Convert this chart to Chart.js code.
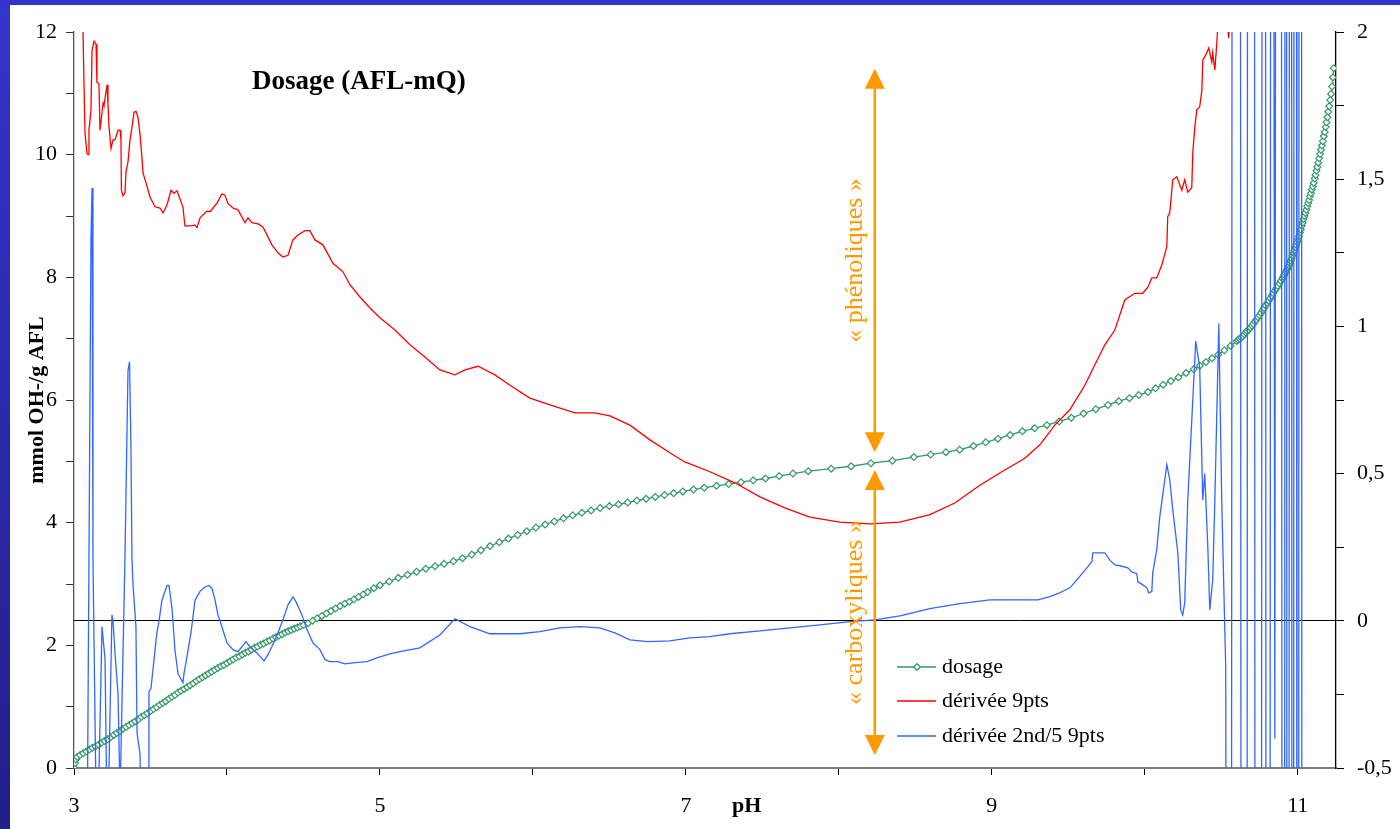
<!DOCTYPE html>
<html>
<head>
<meta charset="utf-8">
<script src="https://cdn.jsdelivr.net/npm/chart.js@4.4.1/dist/chart.umd.min.js"></script>
<style>
html,body{margin:0;padding:0;overflow:hidden;background:#fff;}
canvas{display:block;}
</style>
</head>
<body>
<canvas id="c" width="1400" height="829"></canvas>
<script>
// ---------- DATA ----------
const chartTitle = "Dosage (AFL-mQ)";
const xTitle = "pH";
const yTitle = "mmol OH-/g AFL";
const seriesNames = ["dosage", "dérivée 9pts", "dérivée 2nd/5 9pts"];

const xTicks = [3,4,5,6,7,8,9,10,11];
const xTickLabels = ["3","","5","","7","","9","","11"];
const yTicks = [0,1,2,3,4,5,6,7,8,9,10,11,12];
const yTickLabels = ["0","","2","","4","","6","","8","","10","","12"];
const y2Ticks = [-0.5,-0.25,0,0.25,0.5,0.75,1,1.25,1.5,1.75,2];
const y2TickLabels = ["-0,5","","0","","0,5","","1","","1,5","","2"];

// dosage (left axis)
const phDosage = [
  3.00,3.007,3.013,3.02,3.04,3.06,3.08,3.10,3.12,3.14,3.16,3.18,3.20,3.22,3.24,3.26,3.28,3.30,3.32,3.34,
  3.36,3.38,3.40,3.42,3.44,3.46,3.48,3.50,3.52,3.54,3.56,3.58,3.60,3.62,3.64,3.66,3.68,3.70,3.72,3.74,
  3.76,3.78,3.80,3.82,3.84,3.86,3.88,3.90,3.92,3.94,3.96,3.98,4.00,4.02,4.04,4.06,4.08,4.10,4.12,4.14,
  4.16,4.18,4.20,4.22,4.24,4.26,4.28,4.30,4.32,4.34,4.36,4.38,4.40,4.42,4.44,4.46,4.48,4.50,
  4.53,4.56,4.59,4.62,4.65,4.68,4.71,4.74,4.77,4.80,4.83,4.86,4.89,4.92,4.96,5.00,
  5.06,5.12,5.18,5.24,5.30,5.36,5.42,5.48,5.54,5.60,5.66,5.72,5.78,5.84,5.90,5.96,6.02,6.08,6.14,6.20,
  6.26,6.32,6.38,6.44,6.50,6.56,6.62,6.68,6.74,6.80,6.86,6.92,6.98,7.05,7.12,7.20,7.28,7.36,7.44,7.52,
  7.61,7.70,7.80,7.95,8.08,8.21,8.35,8.49,8.60,8.70,8.79,8.88,8.96,9.04,9.12,9.20,9.28,9.36,9.44,9.52,
  9.60,9.68,9.76,9.83,9.90,9.96,10.02,10.07,10.12,10.17,10.22,10.27,10.32,10.36,10.40,10.44,10.48,10.52,10.56,
  10.60,10.61,10.62,10.63,10.64,10.65,10.66,10.67,10.68,10.69,10.70,10.71,10.72,10.73,10.74,10.75,10.76,10.77,10.78,10.79,
  10.80,10.81,10.82,10.83,10.84,10.85,10.86,10.87,10.88,10.89,10.90,
  10.906,10.912,10.918,10.924,10.930,10.936,10.942,10.948,10.954,10.960,10.966,10.972,10.978,10.984,10.990,10.996,
  11.002,11.008,11.014,11.020,11.026,11.032,11.038,11.044,11.050,11.056,11.062,11.068,11.074,11.080,11.086,11.092,11.098,
  11.104,11.110,11.116,11.122,11.128,11.134,11.140,11.146,11.152,11.158,11.164,11.170,11.176,11.182,11.188,11.194,
  11.200,11.206,11.212,11.218,11.224,11.230,11.235];
const mmolDosage = [
  0.00,0.08,0.14,0.18,0.21,0.24,0.27,0.30,0.33,0.35,0.38,0.41,0.44,0.47,0.50,0.54,0.57,0.60,0.64,0.67,
  0.70,0.73,0.76,0.79,0.83,0.86,0.89,0.93,0.96,0.99,1.03,1.06,1.09,1.13,1.16,1.19,1.23,1.26,1.29,1.32,
  1.35,1.38,1.42,1.45,1.48,1.51,1.54,1.57,1.60,1.63,1.66,1.68,1.71,1.74,1.77,1.80,1.82,1.85,1.88,1.90,
  1.93,1.96,1.98,2.01,2.03,2.06,2.08,2.11,2.13,2.16,2.18,2.21,2.23,2.25,2.27,2.29,2.31,2.33,
  2.36,2.40,2.44,2.48,2.52,2.56,2.60,2.64,2.68,2.71,2.75,2.79,2.83,2.87,2.93,2.98,
  3.04,3.10,3.15,3.20,3.25,3.29,3.33,3.37,3.42,3.48,3.55,3.62,3.68,3.74,3.80,3.86,3.92,3.97,4.02,4.07,
  4.12,4.16,4.20,4.24,4.27,4.30,4.33,4.36,4.39,4.42,4.45,4.48,4.51,4.54,4.57,4.60,4.63,4.66,4.69,4.72,
  4.76,4.80,4.84,4.88,4.92,4.97,5.01,5.07,5.11,5.15,5.19,5.25,5.31,5.37,5.43,5.49,5.54,5.59,5.65,5.71,
  5.78,5.85,5.92,5.98,6.03,6.08,6.13,6.19,6.25,6.31,6.37,6.44,6.50,6.56,6.62,6.68,6.74,6.81,6.88,
  6.96,6.98,7.00,7.02,7.04,7.07,7.10,7.12,7.15,7.18,7.21,7.24,7.28,7.31,7.35,7.38,7.42,7.46,7.50,7.54,
  7.58,7.62,7.66,7.70,7.74,7.78,7.82,7.86,7.90,7.94,7.98,
  8.01,8.04,8.07,8.10,8.13,8.16,8.19,8.23,8.27,8.31,8.35,8.40,8.44,8.49,8.53,8.57,
  8.62,8.67,8.73,8.78,8.84,8.89,8.95,9.00,9.05,9.10,9.16,9.21,9.26,9.32,9.37,9.43,9.48,
  9.54,9.61,9.67,9.74,9.80,9.87,9.94,10.01,10.08,10.15,10.22,10.30,10.37,10.45,10.53,10.61,
  10.70,10.79,10.89,10.99,11.11,11.26,11.41];

// dérivée 9pts (left axis)
const phDeriv = [3.055,3.065,3.072,3.085,3.092,3.098,3.111,3.118,3.131,3.144,3.150,3.163,3.170,3.190,3.196,3.216,3.222,3.229,3.242,3.255,3.268,3.288,3.301,3.307,3.310,3.320,3.333,3.340,3.353,3.366,3.379,3.392,3.405,3.418,3.431,3.444,3.451,3.471,3.484,3.497,3.529,3.562,3.582,3.608,3.634,3.654,3.673,3.712,3.725,3.758,3.791,3.804,3.824,3.869,3.889,3.935,3.967,3.987,4.007,4.039,4.072,4.118,4.137,4.163,4.203,4.235,4.294,4.333,4.366,4.399,4.431,4.464,4.510,4.542,4.575,4.627,4.693,4.758,4.804,4.869,4.935,5.000,5.098,5.196,5.294,5.392,5.490,5.556,5.641,5.752,5.850,5.980,6.111,6.275,6.405,6.503,6.634,6.765,6.895,6.993,7.157,7.320,7.484,7.647,7.810,8.007,8.203,8.399,8.595,8.758,8.922,9.052,9.216,9.314,9.412,9.510,9.608,9.673,9.739,9.804,9.869,9.935,9.987,10.020,10.046,10.078,10.111,10.144,10.150,10.163,10.183,10.209,10.242,10.261,10.281,10.307,10.314,10.327,10.340,10.359,10.373,10.379,10.405,10.418,10.438,10.444,10.458,10.471,10.484,10.535,10.548,10.560];
const deriv9 = [12.5,11.2,10.35,10.02,10.0,10.4,10.73,11.7,11.85,11.8,11.18,11.16,10.4,10.84,10.8,11.14,10.84,10.45,10.1,10.24,10.24,10.4,10.4,10.24,9.42,9.33,9.37,9.72,9.88,10.24,10.45,10.69,10.71,10.61,10.35,9.96,9.70,9.54,9.42,9.31,9.15,9.13,9.05,9.18,9.42,9.37,9.41,9.15,8.84,8.84,8.85,8.81,8.97,9.08,9.07,9.21,9.36,9.34,9.20,9.13,9.10,8.89,8.97,8.89,8.87,8.82,8.53,8.40,8.33,8.36,8.61,8.69,8.76,8.76,8.61,8.53,8.23,8.09,7.88,7.68,7.50,7.34,7.14,6.90,6.70,6.49,6.41,6.49,6.55,6.41,6.24,6.03,5.92,5.79,5.79,5.74,5.59,5.35,5.14,4.99,4.83,4.65,4.42,4.24,4.09,4.01,3.98,4.01,4.13,4.32,4.61,4.81,5.05,5.27,5.59,5.84,6.24,6.57,6.90,7.14,7.63,7.74,7.74,7.84,7.99,7.99,8.20,8.50,8.99,9.05,9.59,9.64,9.42,9.59,9.39,9.46,10.04,10.45,10.73,10.78,11.05,11.54,11.66,11.74,11.51,11.66,11.38,11.82,12.4,12.3,11.9,12.4];

// dérivée 2nd/5 9pts (right axis)
const phDeriv2 = [3.088,3.111,3.118,3.124,3.144,3.160,3.183,3.203,3.214,3.225,3.248,3.255,3.268,3.288,3.301,3.307,3.333,3.353,3.363,3.372,3.379,3.386,3.405,3.412,3.431,3.438,3.484,3.490,3.503,3.542,3.556,3.575,3.608,3.621,3.641,3.660,3.680,3.712,3.719,3.739,3.765,3.791,3.824,3.856,3.882,3.902,3.922,3.941,3.967,4.000,4.039,4.072,4.098,4.124,4.150,4.196,4.242,4.268,4.314,4.359,4.399,4.431,4.451,4.490,4.523,4.562,4.608,4.641,4.673,4.725,4.771,4.824,4.915,4.980,5.065,5.131,5.261,5.392,5.490,5.588,5.719,5.915,6.046,6.176,6.307,6.438,6.536,6.634,6.752,6.895,7.026,7.157,7.288,7.484,7.680,7.876,8.072,8.235,8.399,8.595,8.791,8.987,9.301,9.379,9.431,9.510,9.556,9.621,9.654,9.660,9.739,9.771,9.804,9.837,9.889,9.915,9.948,9.954,9.987,10.013,10.026,10.046,10.052,10.078,10.098,10.144,10.163,10.183,10.216,10.235,10.248,10.261,10.281,10.333,10.359,10.379,10.392,10.412,10.425,10.444,10.458,10.484,10.503,10.529,10.539,10.565,10.572,10.624,10.631,10.667,10.673,10.716,10.722,10.761,10.768,10.788,10.794,10.817,10.824,10.840,10.850,10.858,10.892,10.899,10.913,10.917,10.926,10.930,10.942,10.946,10.959,10.963,10.972,10.976,10.991,10.995,11.005,11.009,11.024,11.028];
const deriv2nd = [-0.60,1.30,1.47,0.21,-0.60,-0.60,-0.02,-0.13,-0.60,-0.60,0.02,0.00,-0.11,-0.25,-0.60,-0.60,0.21,0.85,0.88,0.60,0.21,0.12,-0.02,-0.38,-0.45,-0.60,-0.60,-0.24,-0.23,-0.04,0.00,0.07,0.12,0.12,0.04,-0.10,-0.18,-0.21,-0.18,-0.12,-0.04,0.07,0.10,0.115,0.12,0.11,0.07,0.02,-0.02,-0.075,-0.098,-0.105,-0.088,-0.071,-0.088,-0.109,-0.136,-0.115,-0.065,-0.007,0.054,0.081,0.065,0.020,-0.030,-0.075,-0.098,-0.132,-0.139,-0.139,-0.146,-0.143,-0.139,-0.126,-0.112,-0.105,-0.092,-0.048,0.007,-0.020,-0.044,-0.044,-0.037,-0.024,-0.020,-0.024,-0.041,-0.065,-0.071,-0.068,-0.058,-0.054,-0.044,-0.034,-0.024,-0.014,-0.003,0.003,0.017,0.041,0.058,0.071,0.071,0.082,0.092,0.112,0.139,0.180,0.201,0.231,0.231,0.207,0.190,0.187,0.180,0.166,0.160,0.133,0.122,0.112,0.095,0.099,0.163,0.241,0.353,0.530,0.480,0.377,0.231,0.037,0.020,0.061,0.410,0.950,0.860,0.410,0.500,0.250,0.037,0.139,0.410,1.010,0.410,-0.156,-3,-3,4,4,-3,-3,4,4,-3,-3,4,4,-3,-3,4,4,-0.40,4,4,-3,-3,4,4,-3,-3,4,4,-3,-3,4,4,-3,-3,4,4,-3];

// annotation arrows (data units: pH, mmol)
const arrowLabels = ["« phénoliques »", "« carboxyliques »"];
const arrowPH = [8.235, 8.235];
const arrowFrom = [11.40, 4.86];
const arrowTo = [5.15, 0.21];

// ---------- STYLE ----------
const FONT = "'Liberation Serif', 'Times New Roman', serif";
const GREEN = '#339966', RED = '#ff0000', BLUE = '#3366ff', ORANGE = '#ff9900';
Chart.defaults.font.family = FONT;
Chart.defaults.color = '#000';

const toXY = (xs, ys) => xs.map((x, i) => ({x: x, y: ys[i]}));

const framePlugin = {
  id: 'frame',
  beforeDraw(chart) {
    const ctx = chart.ctx;
    ctx.save();
    ctx.fillStyle = '#ffffff';
    ctx.fillRect(0, 0, chart.width, chart.height);
    const g = ctx.createLinearGradient(0, 0, 0, chart.height);
    g.addColorStop(0, '#3434cc');
    g.addColorStop(1, '#221f8a');
    ctx.fillStyle = g;
    ctx.fillRect(0, 0, 10, chart.height);
    ctx.fillStyle = '#3333cc';
    ctx.fillRect(0, 0, chart.width, 5);
    ctx.restore();
  }
};

function arrowHead(ctx, x, y, dir) {
  ctx.beginPath();
  ctx.moveTo(x, y);
  ctx.lineTo(x - 10, y - dir * 20);
  ctx.lineTo(x + 10, y - dir * 20);
  ctx.closePath();
  ctx.fill();
}

const annotPlugin = {
  id: 'annot',
  afterDatasetsDraw(chart) {
    const ctx = chart.ctx, xs = chart.scales.x, ys = chart.scales.y;
    ctx.save();
    for (let i = 0; i < arrowLabels.length; i++) {
      const x = xs.getPixelForValue(arrowPH[i]);
      const y1 = ys.getPixelForValue(arrowFrom[i]);
      const y2 = ys.getPixelForValue(arrowTo[i]);
      ctx.strokeStyle = ORANGE; ctx.fillStyle = ORANGE; ctx.lineWidth = 2.5;
      ctx.beginPath(); ctx.moveTo(x, y1 + 18); ctx.lineTo(x, y2 - 18); ctx.stroke();
      arrowHead(ctx, x, y1, -1);
      arrowHead(ctx, x, y2, 1);
      ctx.save();
      ctx.translate(x - 13, (y1 + y2) / 2);
      ctx.rotate(-Math.PI / 2);
      ctx.font = '26px ' + FONT;
      ctx.textAlign = 'center';
      ctx.textBaseline = 'alphabetic';
      ctx.fillStyle = ORANGE;
      ctx.fillText(arrowLabels[i], 0, 0);
      ctx.restore();
    }
    ctx.restore();
  },
  afterDraw(chart) {
    const ctx = chart.ctx;
    ctx.save();
    ctx.fillStyle = '#000';
    ctx.font = 'bold 27px ' + FONT;
    ctx.textAlign = 'left'; ctx.textBaseline = 'alphabetic';
    ctx.fillText(chartTitle, 252, 89);
    ctx.font = 'bold 22px ' + FONT;
    ctx.fillText(xTitle, 732, 812);
    ctx.save();
    ctx.translate(43, 400);
    ctx.rotate(-Math.PI / 2);
    ctx.textAlign = 'center';
    ctx.font = 'bold 22px ' + FONT;
    ctx.fillText(yTitle, 0, 0);
    ctx.restore();
    const rows = [667, 701, 736];
    chart.data.datasets.forEach((ds, i) => {
      const y = rows[i];
      ctx.strokeStyle = ds.borderColor; ctx.lineWidth = 1.5;
      ctx.beginPath(); ctx.moveTo(897, y); ctx.lineTo(936, y); ctx.stroke();
      if (ds.pointRadius > 0) {
        ctx.fillStyle = '#fff'; ctx.strokeStyle = ds.borderColor; ctx.lineWidth = 1.3;
        ctx.beginPath();
        ctx.moveTo(917, y - 3.3); ctx.lineTo(920.3, y); ctx.lineTo(917, y + 3.3); ctx.lineTo(913.7, y);
        ctx.closePath(); ctx.fill(); ctx.stroke();
      }
      ctx.fillStyle = '#000';
      ctx.font = '22px ' + FONT;
      ctx.textAlign = 'left'; ctx.textBaseline = 'alphabetic';
      ctx.fillText(seriesNames[i], 942, y + 6);
    });
    ctx.restore();
  }
};

const tickFont = {family: FONT, size: 22};

new Chart(document.getElementById('c'), {
  type: 'line',
  data: {
    datasets: [
      {label: seriesNames[0], data: toXY(phDosage, mmolDosage), yAxisID: 'y',
       borderColor: GREEN, borderWidth: 1.3, pointStyle: 'rectRot', pointRadius: 3.4,
       pointBackgroundColor: '#ffffff', pointBorderColor: GREEN, pointBorderWidth: 1.2, order: 3},
      {label: seriesNames[1], data: toXY(phDeriv, deriv9), yAxisID: 'y',
       borderColor: RED, borderWidth: 1.3, pointRadius: 0, order: 2},
      {label: seriesNames[2], data: toXY(phDeriv2, deriv2nd), yAxisID: 'y2',
       borderColor: BLUE, borderWidth: 1.3, pointRadius: 0, order: 1}
    ]
  },
  options: {
    responsive: false, animation: false, devicePixelRatio: 1,
    layout: {padding: {top: 32, left: 0, right: 0, bottom: 0}},
    plugins: {legend: {display: false}, tooltip: {enabled: false}},
    elements: {line: {tension: 0}},
    scales: {
      x: {
        type: 'linear', position: 'bottom', min: 3, max: 11.25,
        afterBuildTicks: s => { s.ticks = xTicks.map(v => ({value: v})); },
        afterFit: s => { s.height = 61; },
        ticks: {callback: v => xTickLabels[xTicks.indexOf(v)] || '', font: tickFont, color: '#000',
                padding: 18, maxRotation: 0, autoSkip: false},
        grid: {drawOnChartArea: false, drawTicks: true, tickLength: 7, tickColor: '#000'},
        border: {color: '#808080', width: 2}
      },
      y: {
        type: 'linear', position: 'left', min: 0, max: 12,
        afterBuildTicks: s => { s.ticks = yTicks.map(v => ({value: v})); },
        afterFit: s => { s.width = 74; },
        ticks: {callback: v => yTickLabels[yTicks.indexOf(v)] || '', font: tickFont, color: '#000', padding: 9, autoSkip: false},
        grid: {drawOnChartArea: false, drawTicks: true, tickLength: 8, tickColor: '#333'},
        border: {color: '#555', width: 1.3}
      },
      y2: {
        type: 'linear', position: 'right', min: -0.5, max: 2,
        afterBuildTicks: s => { s.ticks = y2Ticks.map(v => ({value: v})); },
        afterFit: s => { s.width = 64; },
        ticks: {callback: v => y2TickLabels[y2Ticks.indexOf(v)] || '', font: tickFont, color: '#000', padding: 13, autoSkip: false},
        grid: {drawOnChartArea: true, drawTicks: true, tickLength: 8, tickColor: '#000',
               color: c => (c.tick && c.tick.value === 0) ? '#000' : 'rgba(0,0,0,0)', lineWidth: 1},
        border: {color: '#000', width: 1.3}
      }
    }
  },
  plugins: [framePlugin, annotPlugin]
});
</script>
</body>
</html>
